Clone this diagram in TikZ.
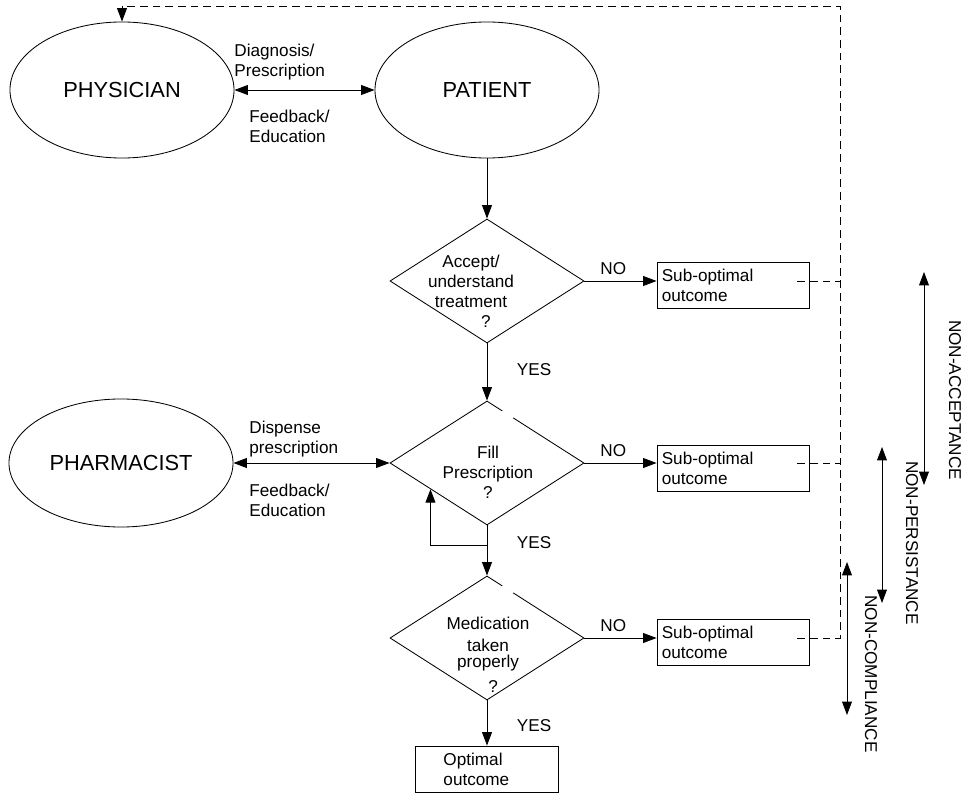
\documentclass[tikz,border=0pt]{standalone}
\usepackage{fontspec}
\setmainfont{Liberation Sans}
\usetikzlibrary{arrows.meta,calc,shapes.geometric}
\newcommand\partyfont{\fontsize{15.5}{18}\selectfont}
\newcommand\lblfont{\fontsize{12.2}{14.2}\selectfont}

\begin{document}
\begin{tikzpicture}[x=0.025cm, y=-0.025cm, font=\lblfont, line width=0.6pt,
  >={Triangle[length=9.5pt,width=7pt]},
  party/.style={draw, ellipse, minimum width=5.6cm, minimum height=3.4cm, font=\partyfont},
  decision/.style={draw, diamond, minimum width=4.85cm, minimum height=3.1cm, inner sep=0pt},
  dtext/.style={align=center, inner sep=0pt},
  outcome/.style={draw, minimum width=3.8cm, minimum height=1.15cm, text width=3.56cm, inner xsep=0.12cm, align=left},
  lbl/.style={align=left, inner sep=0pt},
  fb/.style={dash pattern=on 5.5pt off 3.5pt}]
  \useasboundingbox (0,0) rectangle (969,794);
  % parties
  \node[party] (phys) at (122,90) {PHYSICIAN};
  \node[party] (pat) at (487,90) {PATIENT};
  \node[party, minimum height=3.2cm] (pharm) at (121,463) {PHARMACIST};
  % decisions
  \node[decision] (acc) at (487,281) {};
  \node[decision] (fill) at (487,463) {};
  \node[decision] (med) at (487,638) {};
  \node[dtext] (acc-txt) at (471,291) {Accept/\\understand\\treatment\\\hspace*{1.75em}?};
  \node[dtext] (fill-txt) at (488,472) {Fill\\Prescription\\?};
  \node[dtext] (med-txt) at (488,655) {Medication\\[1.4pt]taken\\[-2.8pt]properly\\[3.6pt]\hspace*{0.6em}?};
  \foreach \d in {fill, med}
    \draw[white, line width=2pt] ($(\d.north)!0.16!(\d.east)$) -- ($(\d.north)!0.27!(\d.east)$);
  % outcomes
  \node[outcome] (sub1) at (733,285) {Sub-optimal\\outcome};
  \node[outcome] (sub2) at (733,468) {Sub-optimal\\outcome};
  \node[outcome] (sub3) at (733,642) {Sub-optimal\\outcome};
  \node[outcome, minimum width=3.575cm, text width=2.175cm, inner xsep=0.7cm] (opt) at (487,769) {Optimal\\outcome};
  % exchanges
  \draw[<->] (phys) -- (pat);
  \draw[<->] (pharm) -- (fill);
  \node[lbl, anchor=west] (diag) at (234,62) {Diagnosis/\\Prescription};
  \node[lbl, anchor=west] (fb-phys) at (249,126) {Feedback/\\Education};
  \node[lbl, anchor=west] (disp) at (249,439) {Dispense\\prescription};
  \node[lbl, anchor=west] (fb-pharm) at (249,500) {Feedback/\\Education};
  % main flow
  \draw[->] (pat) -- (acc);
  \draw[->] (acc) -- node[lbl, right=21pt, pos=0.45] {YES} (fill);
  \draw[->] (fill) -- node[lbl, right=21pt, pos=0.35] {YES} (med);
  \draw[->] (med) -- node[lbl, right=21pt, pos=0.56] {YES} (opt);
  \foreach \d/\s in {acc/sub1, fill/sub2, med/sub3}
    \draw[->] (\d.east) -- node[lbl, above=4pt, pos=0.4] {NO} (\d.east -| \s.west);
  \coordinate (loop) at ($(fill.south)!0.4!(med.north)$);
  \draw[->] (loop) -| ($(fill.west)!0.42!(fill.south)$);
  % feedback to physician
  \coordinate (fbtop) at (840,6);
  \foreach \d/\s in {acc/sub1, fill/sub2}
    \draw[fb] ($(\d.east -| \s.east)+(-12,0)$) -- (\d.east -| fbtop);
  \draw[fb, ->] ($(med.east -| sub3.east)+(-12,0)$) -| (fbtop) -| (phys.north);
  % ranges
  \foreach \rng/\x/\ya/\yb/\tx/\ty/\txt in {ra/924/272/485/955/400/NON-ACCEPTANCE,
      rp/882/447/603/912/543/NON-PERSISTANCE, rc/847/562/715/871/674/NON-COMPLIANCE}{
    \coordinate (\rng-top) at (\x,\ya);
    \coordinate (\rng-bot) at (\x,\yb);
    \draw[<->] (\rng-top) -- (\rng-bot);
    \node[lbl, rotate=-90] (\rng-lbl) at (\tx,\ty) {\txt};
  }
\end{tikzpicture}
\end{document}
